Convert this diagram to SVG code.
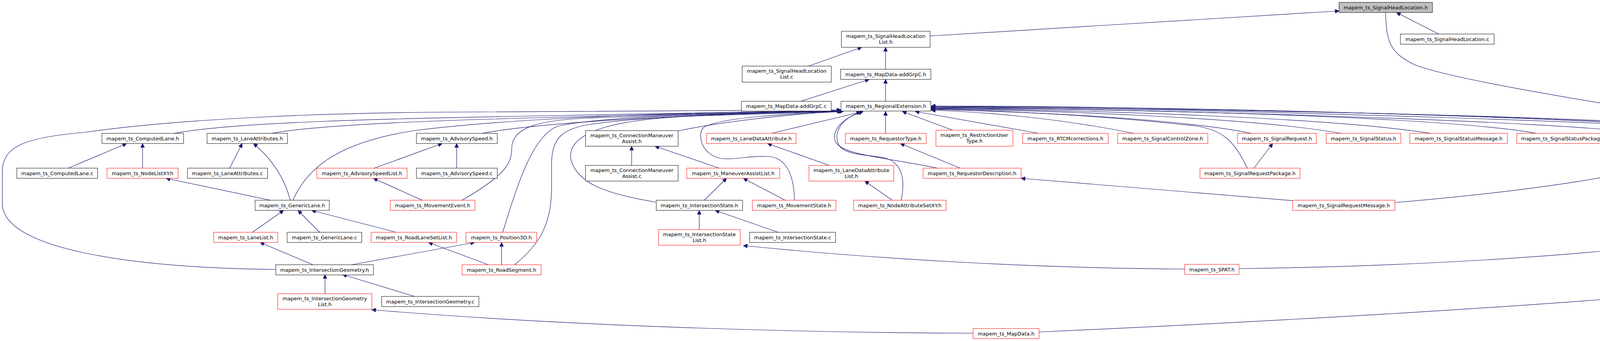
<svg xmlns="http://www.w3.org/2000/svg" width="4795" height="872" viewBox="0 0 4795 872">
<style>
.n rect{fill:#fff;stroke:#000;stroke-width:1}
.r rect{fill:#fff;stroke:#ff0000;stroke-width:1}
.g rect{fill:#bfbfbf;stroke:#000;stroke-width:1}
text{font-family:"DejaVu Sans","Liberation Sans",sans-serif;font-size:13px;fill:#000;text-anchor:middle}
#edges path{fill:none;stroke:#191970;stroke-width:1.2;marker-end:url(#arr)}
</style>
<defs>
<marker id="arr" viewBox="0 0 10 10" refX="10" refY="5" markerUnits="userSpaceOnUse" markerWidth="13" markerHeight="10" orient="auto">
<path d="M0,0 L10,5 L0,10 z" fill="#191970" stroke="#191970"/>
</marker>
</defs>
<rect width="4795" height="872" fill="#fff"/>
<g id="edges">
<path d="M2381,92 L3428,28"/>
<path d="M3683,87 L3575,32"/>
<path d="M3547,32 C3549,110 3560,135 3620,165 C3720,205 4150,275 4602,341"/>
<path d="M2070,169 L2206,121"/>
<path d="M2267,177 L2267,121"/>
<path d="M2050,259 L2225,203"/>
<path d="M2267,259 L2267,203"/>
<path d="M706,689 C350,685 6,640 6,520 L6,440 C6,370 70,352 220,338 C450,305 800,290 1100,287 C1600,284 2000,282 2153,281"/>
<path d="M445,341 C600,312 1000,303 1400,296 C1800,290 2050,285 2153,282"/>
<path d="M695,341 C820,318 1150,306 1500,298 C1850,291 2070,286 2153,283"/>
<path d="M750,512 C790,420 880,362 1060,334 C1400,292 1900,286 2153,284"/>
<path d="M1234,341 C1400,310 1800,292 2154,284"/>
<path d="M1183,512 C1290,450 1310,420 1310,380 C1310,325 1380,308 1500,302 C1800,292 2050,286 2155,285"/>
<path d="M1287,594 C1330,450 1370,342 1430,322 C1550,296 1900,288 2155,285"/>
<path d="M1317,677 C1390,620 1412,560 1412,480 L1412,420 C1412,352 1440,330 1510,318 C1700,292 2000,287 2156,285"/>
<path d="M1679,517 C1550,495 1480,470 1462,410 C1445,330 1600,302 1800,296 C1950,291 2100,286 2157,285"/>
<path d="M1736,335 C1850,310 2050,289 2158,285"/>
<path d="M2034,512 C2032,440 2010,402 1965,400 C1910,398 1880,410 1845,405 C1795,395 1785,345 1800,327 C1840,298 2050,290 2159,285"/>
<path d="M1975,341 L2209,285"/>
<path d="M2400,430 C2250,400 2150,395 2138,360 C2130,330 2160,300 2209,286"/>
<path d="M2307,512 C2318,460 2310,420 2270,405 C2230,395 2175,400 2150,375 C2130,345 2150,305 2203,286"/>
<path d="M2267,341 L2267,285"/>
<path d="M2439,333 L2310,285"/>
<path d="M2659,341 L2343,285"/>
<path d="M2903,341 C2700,300 2500,285 2384,282"/>
<path d="M3204,341 C3000,300 2600,285 2384,280"/>
<path d="M3193,430 C3160,360 3130,332 3060,322 C2800,292 2500,281 2384,279"/>
<path d="M3433,341 C3200,300 2700,283 2384,278"/>
<path d="M3663,341 C3400,300 2800,282 2384,277"/>
<path d="M3934,341 C3700,300 3000,280 2384,276"/>
<path d="M4200,341 C4000,310 3000,280 2384,275"/>
<path d="M2384,273 C3200,278 4300,318 4602,341"/>
<path d="M3571,518 C3900,490 4200,450 4380,385 C4420,360 4410,330 4300,318 C3800,290 2900,276 2384,274"/>
<path d="M3172,687 C3700,680 4300,640 4440,590 C4465,575 4471,560 4471,530 L4471,420 C4471,360 4440,335 4350,325 C3800,290 2900,273 2384,272"/>
<path d="M2660,849 C3300,820 4000,780 4400,740 C4500,720 4521,680 4521,620 L4521,420 C4521,360 4490,335 4400,327 C3800,290 2900,272 2384,271"/>
<path d="M3033,688 C2700,686 2300,668 1903,628"/>
<path d="M2491,852 C2000,851 1400,830 952,792"/>
<path d="M3309,513 L2614,456"/>
<path d="M175,430 L324,367"/>
<path d="M365,430 L365,367"/>
<path d="M692,512 L425,456"/>
<path d="M588,430 L620,367"/>
<path d="M743,512 C730,460 700,410 649,367"/>
<path d="M646,594 L726,538"/>
<path d="M818,594 L763,538"/>
<path d="M1014,594 L798,538"/>
<path d="M801,677 L666,620"/>
<path d="M900,677 L1215,620"/>
<path d="M1250,677 L1097,620"/>
<path d="M1284,677 L1284,620"/>
<path d="M832,751 L832,702"/>
<path d="M1061,758 L877,702"/>
<path d="M958,430 L1132,367"/>
<path d="M1169,430 L1169,367"/>
<path d="M1081,512 L956,456"/>
<path d="M1617,423 L1617,374"/>
<path d="M1841,430 L1677,374"/>
<path d="M1803,512 L1860,456"/>
<path d="M2010,512 L1903,456"/>
<path d="M1790,587 L1790,538"/>
<path d="M1992,594 L1831,538"/>
<path d="M2123,423 L1965,367"/>
<path d="M2284,512 L2214,463"/>
<path d="M2458,430 L2305,367"/>
<path d="M3210,430 L3258,367"/>
</g>
<g id="n_shl" class="g"><rect x="3428" y="6" width="239" height="26"/><text x="3547.5" y="23.5">mapem_ts_SignalHeadLocation.h</text></g>
<g id="n_shll" class="n"><rect x="2154" y="80" width="227" height="41"/><text x="2267.5" y="96.5">mapem_ts_SignalHeadLocation</text><text x="2267.5" y="111.5">List.h</text></g>
<g id="n_shlc" class="n"><rect x="3585" y="87" width="240" height="26"/><text x="3705" y="104.5">mapem_ts_SignalHeadLocation.c</text></g>
<g id="n_shllc" class="n"><rect x="1900" y="169" width="228" height="41"/><text x="2014" y="185.5">mapem_ts_SignalHeadLocation</text><text x="2014" y="200.5">List.c</text></g>
<g id="n_mdgh" class="n"><rect x="2152" y="177" width="231" height="26"/><text x="2267.5" y="194.5">mapem_ts_MapData-addGrpC.h</text></g>
<g id="n_mdgc" class="n"><rect x="1898" y="259" width="230" height="25"/><text x="2013" y="276">mapem_ts_MapData-addGrpC.c</text></g>
<g id="n_re" class="n"><rect x="2153" y="259" width="230" height="25"/><text x="2268" y="276">mapem_ts_RegionalExtension.h</text></g>
<g id="n_clh" class="n"><rect x="261" y="341" width="209" height="26"/><text x="365.5" y="358.5">mapem_ts_ComputedLane.h</text></g>
<g id="n_lah" class="n"><rect x="530" y="341" width="206" height="26"/><text x="633" y="358.5">mapem_ts_LaneAttributes.h</text></g>
<g id="n_ash" class="n"><rect x="1066" y="341" width="207" height="26"/><text x="1169.5" y="358.5">mapem_ts_AdvisorySpeed.h</text></g>
<g id="n_cmah" class="n"><rect x="1499" y="334" width="237" height="40"/><text x="1617.5" y="350.5">mapem_ts_ConnectionManeuver</text><text x="1617.5" y="365.5">Assist.h</text></g>
<g id="n_ldah" class="r"><rect x="1809" y="341" width="229" height="26"/><text x="1923.5" y="358.5">mapem_ts_LaneDataAttribute.h</text></g>
<g id="n_rth" class="r"><rect x="2164" y="341" width="207" height="26"/><text x="2267.5" y="358.5">mapem_ts_RequestorType.h</text></g>
<g id="n_ruth" class="r"><rect x="2396" y="333" width="197" height="41"/><text x="2494.5" y="349.5">mapem_ts_RestrictionUser</text><text x="2494.5" y="364.5">Type.h</text></g>
<g id="n_rtcm" class="r"><rect x="2618" y="341" width="219" height="26"/><text x="2727.5" y="358.5">mapem_ts_RTCMcorrections.h</text></g>
<g id="n_scz" class="r"><rect x="2861" y="341" width="231" height="26"/><text x="2976.5" y="358.5">mapem_ts_SignalControlZone.h</text></g>
<g id="n_sr" class="r"><rect x="3168" y="341" width="202" height="26"/><text x="3269" y="358.5">mapem_ts_SignalRequest.h</text></g>
<g id="n_ss" class="r"><rect x="3395" y="341" width="191" height="26"/><text x="3490.5" y="358.5">mapem_ts_SignalStatus.h</text></g>
<g id="n_ssm" class="r"><rect x="3609" y="341" width="250" height="26"/><text x="3734" y="358.5">mapem_ts_SignalStatusMessage.h</text></g>
<g id="n_ssp" class="r"><rect x="3883" y="341" width="244" height="26"/><text x="4005" y="358.5">mapem_ts_SignalStatusPackage.h</text></g>
<g id="n_rec" class="n"><rect x="4151" y="341" width="231" height="26"/><text x="4266.5" y="358.5">mapem_ts_RegionalExtension.c</text></g>
<g id="n_nop" class="r"><rect x="4559" y="341" width="231" height="26"/><text x="4674.5" y="358.5">mapem_ts_NodeOffsetPointXY.h</text></g>
<g id="n_clc" class="n"><rect x="43" y="430" width="207" height="26"/><text x="146.5" y="447.5">mapem_ts_ComputedLane.c</text></g>
<g id="n_nlxy" class="r"><rect x="274" y="430" width="182" height="26"/><text x="365" y="447.5">mapem_ts_NodeListXY.h</text></g>
<g id="n_lac" class="n"><rect x="480" y="430" width="205" height="26"/><text x="582.5" y="447.5">mapem_ts_LaneAttributes.c</text></g>
<g id="n_asl" class="r"><rect x="811" y="430" width="231" height="26"/><text x="926.5" y="447.5">mapem_ts_AdvisorySpeedList.h</text></g>
<g id="n_asc" class="n"><rect x="1066" y="430" width="207" height="26"/><text x="1169.5" y="447.5">mapem_ts_AdvisorySpeed.c</text></g>
<g id="n_cmac" class="n"><rect x="1499" y="423" width="237" height="40"/><text x="1617.5" y="439.5">mapem_ts_ConnectionManeuver</text><text x="1617.5" y="454.5">Assist.c</text></g>
<g id="n_mal" class="r"><rect x="1758" y="430" width="238" height="26"/><text x="1877" y="447.5">mapem_ts_ManeuverAssistList.h</text></g>
<g id="n_ldal" class="r"><rect x="2071" y="423" width="217" height="40"/><text x="2179.5" y="439.5">mapem_ts_LaneDataAttribute</text><text x="2179.5" y="454.5">List.h</text></g>
<g id="n_rd" class="r"><rect x="2363" y="430" width="251" height="26"/><text x="2488.5" y="447.5">mapem_ts_RequestorDescription.h</text></g>
<g id="n_srp" class="r"><rect x="3072" y="430" width="256" height="26"/><text x="3200" y="447.5">mapem_ts_SignalRequestPackage.h</text></g>
<g id="n_glh" class="n"><rect x="653" y="512" width="190" height="26"/><text x="748" y="529.5">mapem_ts_GenericLane.h</text></g>
<g id="n_me" class="r"><rect x="999" y="512" width="217" height="26"/><text x="1107.5" y="529.5">mapem_ts_MovementEvent.h</text></g>
<g id="n_ish" class="n"><rect x="1680" y="512" width="221" height="26"/><text x="1790.5" y="529.5">mapem_ts_IntersectionState.h</text></g>
<g id="n_ms" class="r"><rect x="1926" y="512" width="214" height="26"/><text x="2033" y="529.5">mapem_ts_MovementState.h</text></g>
<g id="n_nas" class="r"><rect x="2185" y="512" width="237" height="26"/><text x="2303.5" y="529.5">mapem_ts_NodeAttributeSetXY.h</text></g>
<g id="n_srm" class="r"><rect x="3309" y="512" width="262" height="26"/><text x="3440" y="529.5">mapem_ts_SignalRequestMessage.h</text></g>
<g id="n_ll" class="r"><rect x="547" y="594" width="164" height="26"/><text x="629" y="611.5">mapem_ts_LaneList.h</text></g>
<g id="n_glc" class="n"><rect x="735" y="594" width="191" height="26"/><text x="830.5" y="611.5">mapem_ts_GenericLane.c</text></g>
<g id="n_rlsl" class="r"><rect x="950" y="594" width="219" height="26"/><text x="1059.5" y="611.5">mapem_ts_RoadLaneSetList.h</text></g>
<g id="n_p3d" class="r"><rect x="1193" y="594" width="181" height="26"/><text x="1283.5" y="611.5">mapem_ts_Position3D.h</text></g>
<g id="n_isl" class="r"><rect x="1686" y="587" width="209" height="40"/><text x="1790.5" y="603.5">mapem_ts_IntersectionState</text><text x="1790.5" y="618.5">List.h</text></g>
<g id="n_isc" class="n"><rect x="1919" y="594" width="220" height="26"/><text x="2029" y="611.5">mapem_ts_IntersectionState.c</text></g>
<g id="n_igh" class="n"><rect x="706" y="677" width="250" height="26"/><text x="831" y="694.5">mapem_ts_IntersectionGeometry.h</text></g>
<g id="n_rs" class="r"><rect x="1183" y="677" width="202" height="26"/><text x="1284" y="694.5">mapem_ts_RoadSegment.h</text></g>
<g id="n_spat" class="r"><rect x="3033" y="676" width="139" height="26"/><text x="3102.5" y="693.5">mapem_ts_SPAT.h</text></g>
<g id="n_igl" class="r"><rect x="711" y="751" width="241" height="40"/><text x="831.5" y="767.5">mapem_ts_IntersectionGeometry</text><text x="831.5" y="782.5">List.h</text></g>
<g id="n_igc" class="n"><rect x="977" y="758" width="249" height="26"/><text x="1101.5" y="775.5">mapem_ts_IntersectionGeometry.c</text></g>
<g id="n_md" class="r"><rect x="2491" y="840" width="169" height="26"/><text x="2575.5" y="857.5">mapem_ts_MapData.h</text></g>
</svg>
